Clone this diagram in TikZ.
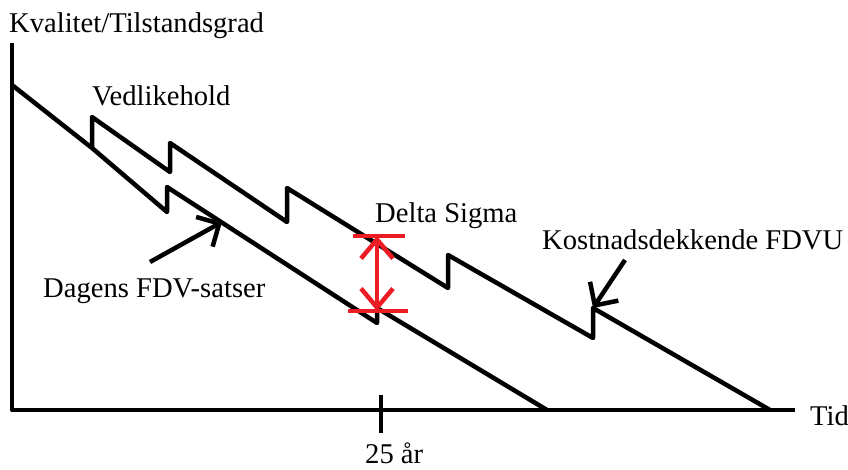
\documentclass[tikz,border=0pt]{standalone}
\usepackage{fontspec}
\setmainfont{Liberation Serif}
\usepackage{tikz}
\usetikzlibrary{arrows.meta}
\definecolor{paintred}{RGB}{237,28,36}

\begin{document}
\begin{tikzpicture}[x=1pt, y=-1pt,
  lbl/.style={font=\fontsize{28.6}{32}\selectfont, inner sep=0pt, anchor=base west},
  axis/.style={line width=4.5pt, line join=round},
  curve/.style={line width=4.5pt, line join=round},
  pil/.style={line width=4.5pt, -{Straight Barb[length=17pt, width=34pt]}},
  redbar/.style={line width=4.5pt, color=paintred},
  redpil/.style={line width=4.5pt, color=paintred,
                 {Straight Barb[length=19pt, width=32pt]}-{Straight Barb[length=19pt, width=32pt]}},
]
  \useasboundingbox (0,0) rectangle (848,470);

  % axes
  \coordinate (ytop) at (12,43);
  \coordinate (o) at (12,410);
  \coordinate (xend) at (795,410);
  \coordinate (t25) at (381,395);
  \coordinate (b25) at (381,433);
  \draw[axis] (ytop) -- (o) -- (xend);
  \draw[axis] (t25) -- (b25);

  \node[lbl] (kval) at (9,33) {Kvalitet/Tilstandsgrad};
  \node[lbl] (tid) at (810,425) {Tid};
  \node[lbl] (aar) at (365,463) {25 år};
  \node[lbl] (vedl) at (92,106) {Vedlikehold};
  \node[lbl] (delta) at (375,223) {Delta Sigma};
  \node[lbl] (kost) at (542,250) {Kostnadsdekkende FDVU};
  \node[lbl] (dagens) at (43,298) {Dagens FDV-satser};

  % dagens and kostnadsdekkende
  \coordinate (start) at (12,85);
  \coordinate (split) at (92,148);
  \draw[curve] (start) -- (split) -- (167,212) -- (167,187) -- (377,323)
    -- (377,308) -- (547,410);
  \draw[curve] (split) -- (92,117) -- (170,172) -- (170,143) -- (287,222)
    -- (287,188) -- (448,288) -- (448,255) -- (593,338)
    -- (593,308) coordinate (kosttip) -- (770,410);

  \coordinate (dagtail) at (150,262);
  \coordinate (dagtip) at (222,222);
  \coordinate (kosttail) at (625,260);
  \draw[pil] (dagtail) -- (dagtip);
  \draw[pil] (kosttail) -- (kosttip);

  % delta sigma
  \coordinate (dtop) at (377,236);
  \coordinate (dbot) at (377,311);
  \draw[redbar] ([xshift=-24pt]dtop) -- ([xshift=28pt]dtop);
  \draw[redbar] ([xshift=-29pt]dbot) -- ([xshift=31pt]dbot);
  \draw[redpil] (dtop) -- (dbot);
\end{tikzpicture}
\end{document}
